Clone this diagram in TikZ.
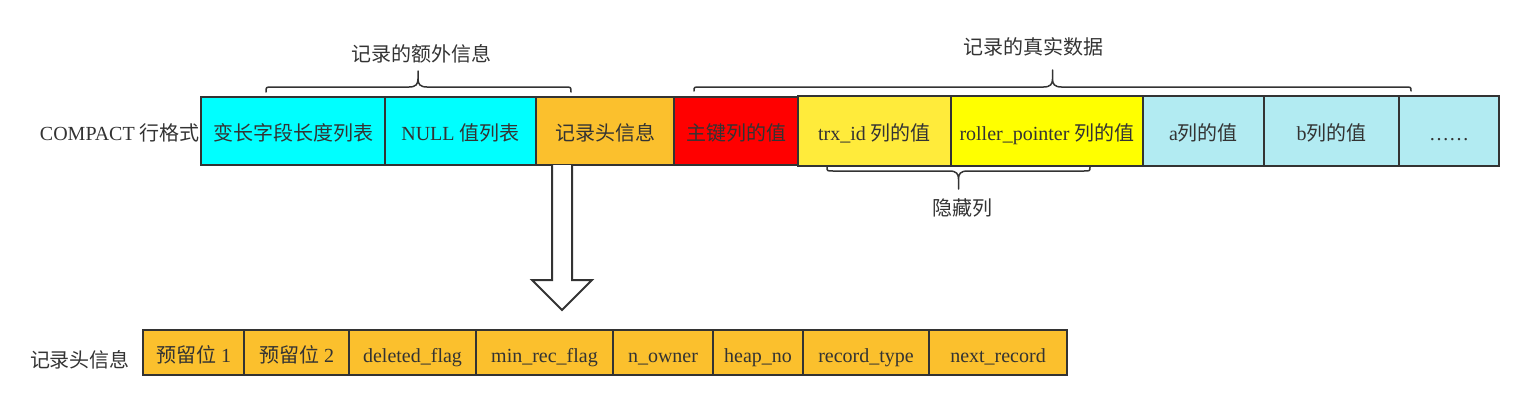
\documentclass[tikz,border=0pt]{standalone}
\usepackage{fontspec}
\setmainfont{Liberation Serif}
\newfontfamily\cjk{Noto Sans CJK SC}
\definecolor{txt}{HTML}{333333}
\definecolor{cyanA}{HTML}{00FFFF}
\definecolor{orangeA}{HTML}{FBC02D}
\definecolor{redA}{HTML}{FF0000}
\definecolor{yellowA}{HTML}{FFEB3B}
\definecolor{yellowB}{HTML}{FFFF00}
\definecolor{lcyan}{HTML}{B2EBF2}
\begin{document}
\begin{tikzpicture}[x=1pt,y=-1pt,
  cell/.style={draw=txt, line width=2pt, anchor=north west, inner sep=0pt, outer sep=0pt,
    text=txt, font=\fontsize{20}{24}\selectfont, text height=20pt, text depth=1pt},
  toprow/.style={cell, minimum height=68pt},
  botrow/.style={cell, fill=orangeA, minimum height=45pt},
  lbl/.style={text=txt, inner sep=0pt, font=\fontsize{20}{24}\selectfont, text height=20pt, text depth=1pt},
  brace/.style={draw=txt, line width=1.5pt, line join=round, line cap=round}]
\useasboundingbox (0,0) rectangle (1524,407);

% top row, left group
\node[toprow, fill=cyanA,   minimum width=184pt] (c1) at (201,97) {\cjk 变长字段长度列表};
\node[toprow, fill=cyanA,   minimum width=151pt] (c2) at (385,97) {NULL {\cjk 值列表}};
\node[toprow, fill=orangeA, minimum width=138pt] (c3) at (536,97) {\cjk 记录头信息};
\node[toprow, fill=redA,    minimum width=124pt] (c4) at (674,97) {\cjk 主键列的值};
% top row, right group
\node[cell, minimum height=70pt, fill=yellowA, minimum width=153pt] (c5) at (798,96) {trx\_id {\cjk 列的值}};
\node[cell, minimum height=70pt, fill=yellowB, minimum width=192pt] (c6) at (951,96) {roller\_pointer {\cjk 列的值}};
\node[cell, minimum height=70pt, fill=lcyan,   minimum width=121pt] (c7) at (1143,96) {a{\cjk 列的值}};
\node[cell, minimum height=70pt, fill=lcyan,   minimum width=135pt] (c8) at (1264,96) {b{\cjk 列的值}};
\node[cell, minimum height=70pt, fill=lcyan,   minimum width=100pt] (c9) at (1399,96) {……};

\node[lbl, anchor=east] (compact) at (200,131) {COMPACT {\cjk 行格式}};

% braces
\draw[brace] (266,92) .. controls (266,87) .. (272,87) -- (409,87)
  .. controls (416,87) and (418,84) .. (418,79) -- (418,71) -- (418,79)
  .. controls (418,84) and (420,87) .. (427,87) -- (565,87) .. controls (571,87) .. (571,92);
\node[lbl] (extra) at (421,52) {\cjk 记录的额外信息};

\draw[brace] (694,91) .. controls (694,87) .. (700,87) -- (1043.5,87)
  .. controls (1050.5,87) and (1052.5,84) .. (1052.5,79) -- (1052.5,70) -- (1052.5,79)
  .. controls (1052.5,84) and (1054.5,87) .. (1061.5,87) -- (1405,87) .. controls (1411,87) .. (1411,91);
\node[lbl] (real) at (1033,45) {\cjk 记录的真实数据};

\draw[brace] (827,167) .. controls (827,171) .. (833,171) -- (949.5,171)
  .. controls (956.5,171) and (958.5,174) .. (958.5,179) -- (958.5,189) -- (958.5,179)
  .. controls (958.5,174) and (960.5,171) .. (967.5,171) -- (1084,171) .. controls (1090,171) .. (1090,167);
\node[lbl] (hidden) at (962,206) {\cjk 隐藏列};

% hollow arrow
\draw[draw=txt, line width=2pt, fill=white, line join=miter]
  (552,165) -- (552,280) -- (532,280) -- (562,310) -- (592,280) -- (572,280) -- (572,165);

% bottom row
\node[lbl] (hdr) at (80,358) {\cjk 记录头信息};
\node[botrow, minimum width=101pt] (r1) at (143,330) {{\cjk 预留位} 1};
\node[botrow, minimum width=105pt] (r2) at (244,330) {{\cjk 预留位} 2};
\node[botrow, minimum width=127pt] (r3) at (349,330) {deleted\_flag};
\node[botrow, minimum width=137pt] (r4) at (476,330) {min\_rec\_flag};
\node[botrow, minimum width=100pt] (r5) at (613,330) {n\_owner};
\node[botrow, minimum width=90pt]  (r6) at (713,330) {heap\_no};
\node[botrow, minimum width=126pt] (r7) at (803,330) {record\_type};
\node[botrow, minimum width=138pt] (r8) at (929,330) {next\_record};
\end{tikzpicture}
\end{document}
